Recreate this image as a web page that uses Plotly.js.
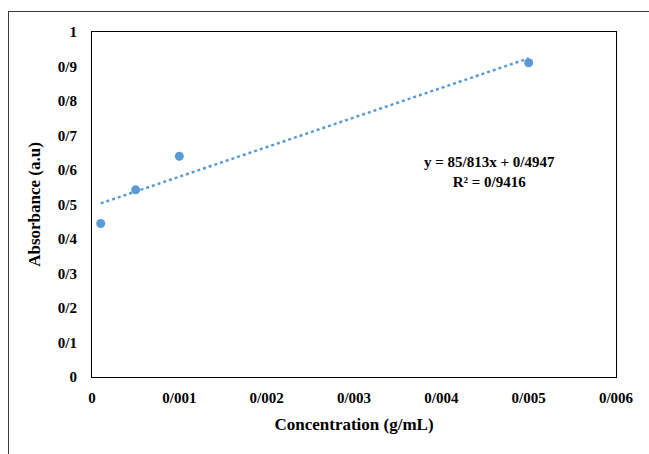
<!DOCTYPE html>
<html>
<head>
<meta charset="utf-8">
<script src="https://cdn.plot.ly/plotly-3.0.1.min.js"></script>
<style>
  html, body { margin: 0; padding: 0; width: 649px; height: 454px; overflow: hidden; background: #fff; }
  #chart { position: absolute; left: 0; top: 0; width: 649px; height: 454px; }
  #frame { position: absolute; left: 8px; top: 11px; width: 700px; height: 500px;
           border: 1px solid #3a3a3a; box-sizing: border-box; pointer-events: none; }
</style>
</head>
<body>
<div id="chart"></div>
<div id="frame"></div>
<script>
// Measured samples
const concentration = [0.0001, 0.0005, 0.001, 0.005];
const absorbance = [0.445, 0.5425, 0.640, 0.911];

// Linear trendline fitted to the samples
const slope = 85.813;
const intercept = 0.4947;
const rSquared = 0.9416;
const trendX = [0.0001, 0.005];
const trendY = trendX.map(x => slope * x + intercept);

// Axis ticks (slash used as decimal separator)
const xTickVals = [0, 0.001, 0.002, 0.003, 0.004, 0.005, 0.006];
const xTickText = ['0', '0/001', '0/002', '0/003', '0/004', '0/005', '0/006'];
const yTickVals = [0, 0.1, 0.2, 0.3, 0.4, 0.5, 0.6, 0.7, 0.8, 0.9, 1];
const yTickText = ['0', '0/1', '0/2', '0/3', '0/4', '0/5', '0/6', '0/7', '0/8', '0/9', '1'];

const fmt = v => String(v).replace('.', '/');
const equationText = 'y = ' + fmt(slope) + 'x + ' + fmt(intercept) + '<br>R² = ' + fmt(rSquared);

const serif = '"Liberation Serif", "Times New Roman", serif';
const blue = '#5B9BD5';

const traces = [
  {
    x: trendX, y: trendY, mode: 'lines', type: 'scatter',
    line: { color: blue, width: 2.5, dash: 'dot' },
    hoverinfo: 'skip', showlegend: false
  },
  {
    x: concentration, y: absorbance, mode: 'markers', type: 'scatter',
    marker: { color: blue, size: 9 },
    showlegend: false
  }
];

const layout = {
  width: 649, height: 454,
  margin: { l: 92, r: 33, t: 32, b: 77 },
  paper_bgcolor: '#fff', plot_bgcolor: '#fff',
  font: { family: serif, color: '#000' },
  xaxis: {
    range: [0, 0.006], tickvals: xTickVals, ticktext: xTickText,
    showgrid: false, zeroline: false, showline: true, mirror: true,
    linecolor: '#000', linewidth: 1, ticks: '',
    ticklabelstandoff: 7,
    tickfont: { family: serif, size: 15, weight: 'bold', color: '#000' },
    title: { text: '<b>Concentration (g/mL)</b>', standoff: 13,
             font: { family: serif, size: 17, color: '#000' } }
  },
  yaxis: {
    range: [0, 1], tickvals: yTickVals, ticktext: yTickText,
    showgrid: false, zeroline: false, showline: true, mirror: true,
    linecolor: '#000', linewidth: 1, ticks: '',
    ticklabelstandoff: 11,
    tickfont: { family: serif, size: 15, weight: 'bold', color: '#000' },
    title: { text: '<b>Absorbance (a.u)</b>', standoff: 12,
             font: { family: serif, size: 17, color: '#000' } }
  },
  annotations: [
    {
      x: 0.00455, y: 0.593, xref: 'x', yref: 'y',
      text: '<b>' + equationText + '</b>', showarrow: false,
      align: 'center', font: { family: serif, size: 15, color: '#000' }
    }
  ]
};

Plotly.newPlot('chart', traces, layout, { staticPlot: true, displayModeBar: false });
</script>
</body>
</html>
